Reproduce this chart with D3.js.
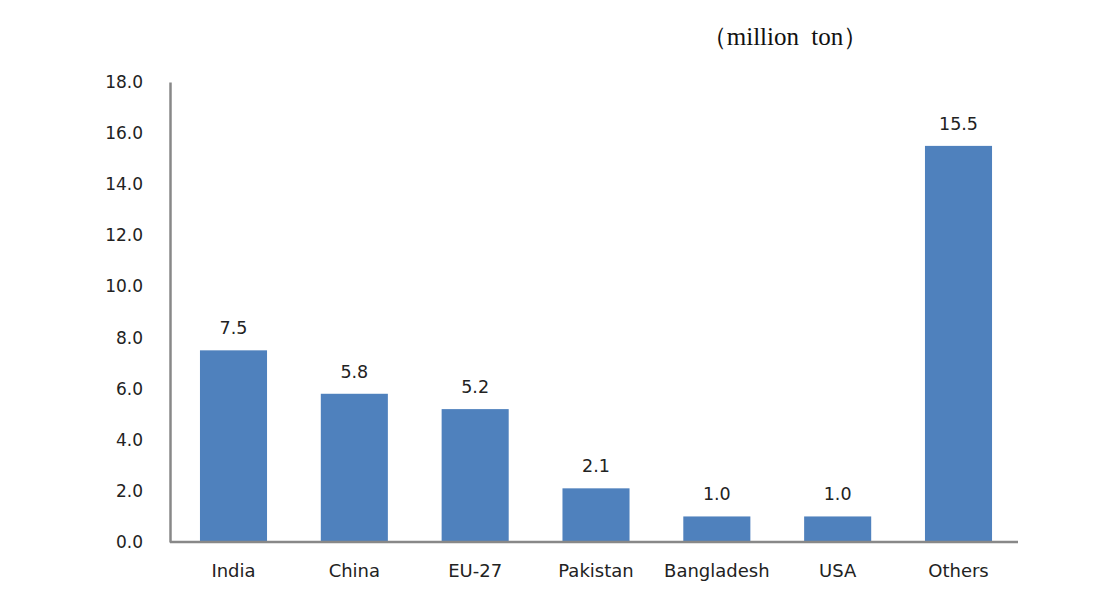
<!DOCTYPE html>
<html lang="en">
<head>
  <meta charset="UTF-8">
  <title>Production by country</title>
  <style>
    body { margin: 0; background: #fff; }
    text { font-family: "DejaVu Sans", sans-serif; }
  </style>
</head>
<body>
  <svg id="chart" width="1097" height="602"></svg>
  <script src="https://d3js.org/d3.v7.min.js"></script>
  <script>
    const categories = ["India", "China", "EU-27", "Pakistan", "Bangladesh", "USA", "Others"];
    const values = [7.5, 5.8, 5.2, 2.1, 1.0, 1.0, 15.5];
    const yTicks = [0, 2, 4, 6, 8, 10, 12, 14, 16, 18];
    const unitLabel = "（million  ton）";

    const margin = { top: 82, right: 75, bottom: 60, left: 170 };
    const width = 1097 - margin.left - margin.right;
    const height = 602 - margin.top - margin.bottom;
    const axisLength = 848;

    const svg = d3.select("#chart")
      .append("g")
      .attr("transform", `translate(${margin.left}, ${margin.top})`);

    const xScale = d3.scaleBand()
      .domain(categories)
      .range([0, width])
      .paddingInner(0.445)
      .paddingOuter(0.248);

    const yScale = d3.scaleLinear()
      .domain([0, 18])
      .range([height, 0]);

    // bars
    svg.selectAll("rect.bar")
      .data(categories)
      .enter()
      .append("rect")
      .attr("class", "bar")
      .attr("x", d => xScale(d))
      .attr("y", (d, i) => yScale(values[i]))
      .attr("width", xScale.bandwidth())
      .attr("height", (d, i) => height - yScale(values[i]))
      .style("fill", "#4f81bd");

    // value labels
    svg.selectAll("text.val")
      .data(categories)
      .enter()
      .append("text")
      .attr("class", "val")
      .attr("x", d => xScale(d) + xScale.bandwidth() / 2)
      .attr("y", (d, i) => yScale(values[i]) - 16)
      .style("text-anchor", "middle")
      .style("font-size", "17.5px")
      .style("fill", "#222")
      .text((d, i) => values[i].toFixed(1));

    // axes
    const yAxis = d3.axisLeft(yScale)
      .tickValues(yTicks)
      .tickFormat(d3.format(".1f"))
      .tickSize(0)
      .tickPadding(27);

    const gy = svg.append("g").attr("class", "y-axis").call(yAxis);
    gy.select(".domain").attr("stroke", "#888").attr("stroke-width", 2.5);
    gy.selectAll("text").style("font-size", "17px").style("fill", "#222")
      .style("font-family", "DejaVu Sans, sans-serif");

    const xAxis = d3.axisBottom(xScale).tickSize(0).tickPadding(22);
    const gx = svg.append("g")
      .attr("class", "x-axis")
      .attr("transform", `translate(0, ${height})`)
      .call(xAxis);
    gx.select(".domain").attr("d", `M0,0H${axisLength}`)
      .attr("stroke", "#888").attr("stroke-width", 2.5);
    gx.selectAll("text").style("font-size", "18px").style("fill", "#222")
      .style("font-family", "DejaVu Sans, sans-serif");

    // unit label
    d3.select("#chart").append("text")
      .attr("x", 785)
      .attr("y", 45)
      .style("text-anchor", "middle")
      .style("font-family", "'Liberation Serif', 'DejaVu Serif', serif")
      .style("font-size", "25px")
      .style("word-spacing", "6px")
      .style("fill", "#111")
      .text(unitLabel);
  </script>
</body>
</html>
